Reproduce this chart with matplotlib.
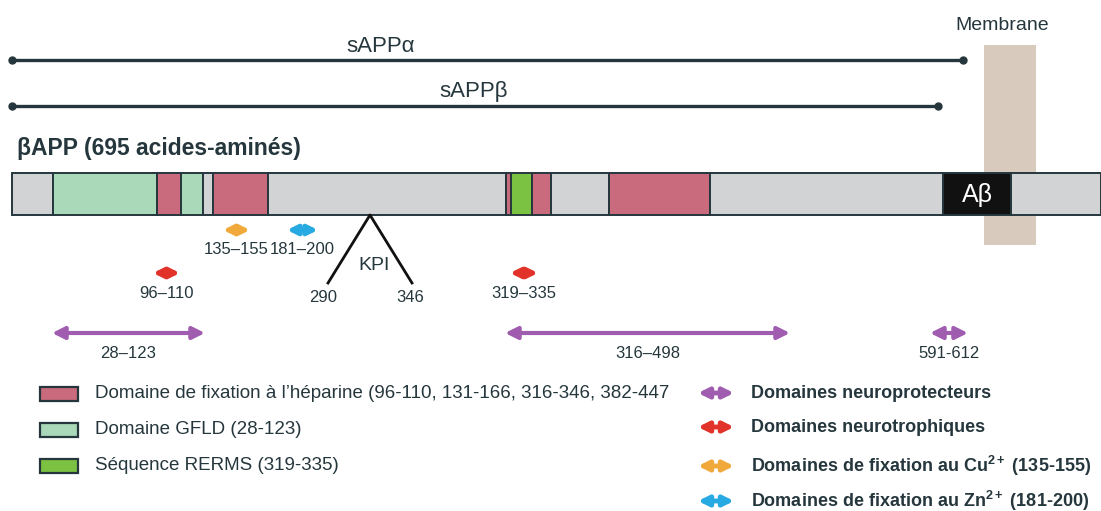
import matplotlib
matplotlib.use("Agg")
import matplotlib.pyplot as plt
from matplotlib.patches import Rectangle, FancyArrowPatch

plt.rcParams['font.family'] = ['Liberation Sans', 'DejaVu Sans']

# ---- data (diagram units, ~pixels along the protein drawing) ----
seg_edges = [12, 53, 157, 181, 203, 213, 268, 506, 511, 532, 551, 609, 710, 943, 1011, 1101]
seg_kinds = ['g', 'gfld', 'hep', 'gfld', 'g', 'hep', 'g', 'hep', 'rerms', 'hep', 'g', 'hep', 'g', 'ab', 'g']

frag_names = ['sAPPα', 'sAPPβ']
frag_ends = [963, 938]

arrow_kinds = ['cu', 'zn', 'neurotroph', 'neurotroph', 'neuroprot', 'neuroprot', 'neuroprot']
arrow_labels = ['135–155', '181–200', '96–110', '319–335', '28–123', '316–498', '591-612']
arrow_x0 = [223, 287, 153, 510, 52, 505, 930]
arrow_x1 = [250, 318, 180, 538, 205, 790, 968]

kpi_labels = ['290', '346']

legend_box_labels = ["Domaine de fixation à l’héparine (96-110, 131-166, 316-346, 382-447",
                     "Domaine GFLD (28-123)",
                     "Séquence RERMS (319-335)"]
legend_box_kinds = ['hep', 'gfld', 'rerms']
legend_arrow_labels = ["Domaines neuroprotecteurs",
                       "Domaines neurotrophiques",
                       r"Domaines de fixation au Cu$^{\mathregular{2+}}$ (135-155)",
                       r"Domaines de fixation au Zn$^{\mathregular{2+}}$ (181-200)"]
legend_arrow_kinds = ['neuroprot', 'neurotroph', 'cu', 'zn']

# ---- styles ----
fill = {'g': '#D1D3D5', 'gfld': '#A9D9B9', 'hep': '#C96B7C', 'rerms': '#7CC242', 'ab': '#111111'}
acol = {'neuroprot': '#A05DB0', 'neurotroph': '#E2332B', 'cu': '#F2A93B', 'zn': '#27A9E1'}
ink = '#25373D'

fig = plt.figure(figsize=(11.01, 5.11), dpi=100)
ax = fig.add_axes([0, 0, 1, 1])
ax.set_xlim(0, 1101)
ax.set_ylim(511, 0)
ax.axis('off')

# membrane
ax.add_patch(Rectangle((984, 45), 52, 200, facecolor='#D8CABD', edgecolor='none', zorder=1))
ax.text(1002, 26, 'Membrane', ha='center', va='center', fontsize=14, color=ink)

# fragments
frag_y = [60, 106]
for name, xe, y in zip(frag_names, frag_ends, frag_y):
    ax.plot([12, xe], [y, y], color=ink, lw=2.4, zorder=3)
    ax.plot([12, xe], [y, y], 'o', color=ink, ms=5, zorder=3)
lab_x = [381, 474]
for name, x, y in zip(frag_names, lab_x, frag_y):
    ax.text(x, y - 14, name, ha='center', va='center', fontsize=16, color=ink)

ax.text(17, 148, 'βAPP (695 acides-aminés)', ha='left', va='center', fontsize=16.5,
        fontweight='bold', color=ink)

# main bar
bar_top, bar_h = 173, 42
for x0, x1, k in zip(seg_edges[:-1], seg_edges[1:], seg_kinds):
    ax.add_patch(Rectangle((x0, bar_top), x1 - x0, bar_h, facecolor=fill[k],
                           edgecolor=ink, lw=1.4, zorder=2))
ax.text((943 + 1011) / 2, bar_top + bar_h / 2 + 1, 'Aβ', ha='center', va='center',
        fontsize=18, color='white', zorder=4)

# KPI insert
ax.plot([328, 370, 412], [283, 215, 283], color='#111111', lw=2, zorder=3)
ax.text(374, 266, 'KPI', ha='center', va='center', fontsize=14, color=ink)
ax.text(323, 297, kpi_labels[0], ha='center', va='center', fontsize=12, color=ink)
ax.text(410, 297, kpi_labels[1], ha='center', va='center', fontsize=12, color=ink)

# arrows
row_y = {'cu': 230, 'zn': 230, 'neurotroph': 273, 'neuroprot': 333}
for k, lab, x0, x1 in zip(arrow_kinds, arrow_labels, arrow_x0, arrow_x1):
    y = row_y[k]
    big = k == 'neuroprot'
    a = FancyArrowPatch((x0, y), (x1, y), arrowstyle='<|-|>',
                        mutation_scale=18 if big else 14,
                        lw=3 if big else 3.5, color=acol[k], shrinkA=0, shrinkB=0, zorder=3)
    ax.add_patch(a)
    ax.text((x0 + x1) / 2, y + 20, lab, ha='center', va='center', fontsize=12, color=ink)

# left legend
leg_y = [394, 430, 466]
for lab, k, y in zip(legend_box_labels, legend_box_kinds, leg_y):
    ax.add_patch(Rectangle((40, y - 7), 38, 14, facecolor=fill[k], edgecolor=ink, lw=1.6))
    ax.text(95, y, lab, ha='left', va='center', fontsize=13.5, color=ink)

# right legend
rleg_y = [393, 427, 466, 501]
for lab, k, y in zip(legend_arrow_labels, legend_arrow_kinds, rleg_y):
    a = FancyArrowPatch((698, y), (734, y), arrowstyle='<|-|>', mutation_scale=15,
                        lw=3.5, color=acol[k], shrinkA=0, shrinkB=0)
    ax.add_patch(a)
    ax.text(751, y, lab, ha='left', va='center', fontsize=13, color=ink, fontweight='bold')

fig.savefig('out.png', dpi=100)
